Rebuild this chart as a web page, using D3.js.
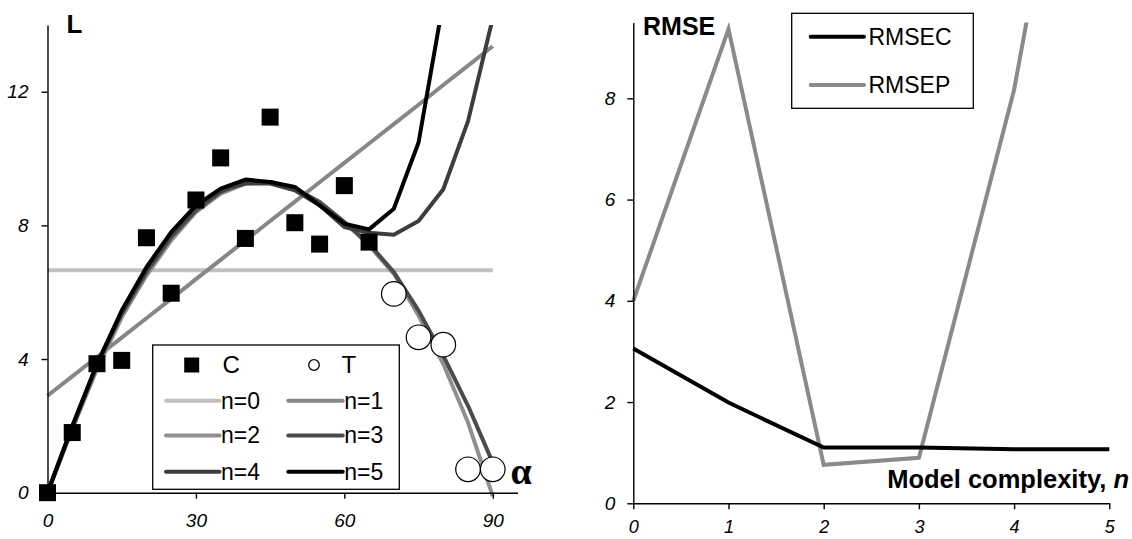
<!DOCTYPE html>
<html>
<head>
<meta charset="utf-8">
<script src="https://cdn.jsdelivr.net/npm/d3@7"></script>
<style>
  html, body { margin: 0; padding: 0; background: #fff; }
  svg { display: block; font-family: "Liberation Sans", Arial, sans-serif; }
</style>
</head>
<body>
<script>
// ---- Left panel: calibration / test points and polynomial fits ----
const angles = [0, 5, 10, 15, 20, 25, 30, 35, 40, 45, 50, 55, 60, 65, 70, 75, 80, 85, 90];
const calAngles = [0, 5, 10, 15, 20, 25, 30, 35, 40, 45, 50, 55, 60, 65];
const calL = [0, 1.80, 3.86, 3.96, 7.63, 5.97, 8.76, 10.02, 7.61, 11.24, 8.08, 7.44, 9.19, 7.50];
const testAngles = [70, 75, 80, 85, 90];
const testL = [5.95, 4.65, 4.43, 0.70, 0.70];

const fitN0 = [6.66, 6.66, 6.66, 6.66, 6.66, 6.66, 6.66, 6.66, 6.66, 6.66, 6.66, 6.66, 6.66, 6.66, 6.66, 6.66, 6.66, 6.66, 6.66];
const fitN1 = [2.90, 3.48, 4.06, 4.64, 5.22, 5.80, 6.39, 6.97, 7.55, 8.13, 8.71, 9.29, 9.87, 10.45, 11.03, 11.61, 12.20, 12.78, 13.36];
const fitN2 = [0, 1.90, 3.70, 5.25, 6.50, 7.55, 8.40, 8.95, 9.25, 9.30, 9.10, 8.70, 8.10, 7.40, 6.55, 5.30, 3.85, 2.10, -0.10];
const fitN3 = [0, 1.95, 3.80, 5.35, 6.60, 7.65, 8.45, 9.00, 9.30, 9.30, 9.10, 8.70, 8.10, 7.45, 6.60, 5.45, 4.10, 2.60, 0.90];
const fitN4 = [0, 1.95, 3.85, 5.40, 6.70, 7.75, 8.55, 9.05, 9.25, 9.25, 9.05, 8.60, 7.95, 7.78, 7.72, 8.13, 9.08, 11.12, 14.20];
const fitN5 = [0, 2.00, 3.85, 5.45, 6.75, 7.80, 8.60, 9.10, 9.37, 9.30, 9.15, 8.60, 8.05, 7.88, 8.50, 10.48, 14.70, 22.0, 33.0];

const fitNames = ["n=0", "n=1", "n=2", "n=3", "n=4", "n=5"];
const fitColors = ["#c0c0c0", "#878787", "#8f8f8f", "#4b4b4b", "#3d3d3d", "#000000"];
const angleTicks = [0, 30, 60, 90];
const lTicks = [0, 4, 8, 12];

// ---- Right panel: error versus model complexity ----
const complexity = [0, 1, 2, 3, 4, 5];
const rmsec = [3.06, 1.99, 1.10, 1.10, 1.07, 1.07];
const rmsep = [4.00, 9.37, 0.76, 0.90, 8.17, 18.4];
const errNames = ["RMSEC", "RMSEP"];
const errColors = ["#000000", "#8a8a8a"];
const complexityTicks = [0, 1, 2, 3, 4, 5];
const rmseTicks = [0, 2, 4, 6, 8];

const W = 1132, H = 539;
const svg = d3.select("body").append("svg").attr("width", W).attr("height", H);

function styleAxis(g, size) {
  g.attr("font-family", "'Liberation Sans', Arial, sans-serif").attr("font-size", size);
  g.select(".domain").attr("stroke", "#000").attr("stroke-width", 1.4);
  g.selectAll(".tick line").attr("stroke", "#000").attr("stroke-width", 1.4);
  g.selectAll(".tick text").attr("font-style", "italic").attr("fill", "#000");
}

// ===== Left panel =====
const xL = d3.scaleLinear().domain([0, 95]).range([47.5, 517.5]);
const yL = d3.scaleLinear().domain([0, 14]).range([492.7, 24.9]);

svg.append("clipPath").attr("id", "clipL")
  .append("rect").attr("x", 0).attr("y", yL(14)).attr("width", 545).attr("height", H);

const fits = [fitN0, fitN1, fitN2, fitN3, fitN4, fitN5].map((vals, i) => ({
  name: fitNames[i], color: fitColors[i], pts: angles.map((a, j) => [a, vals[j]])
}));

const lineL = d3.line().x(d => xL(d[0])).y(d => yL(d[1]));

svg.append("g").attr("clip-path", "url(#clipL)")
  .selectAll("path").data(fits).join("path")
  .attr("d", d => lineL(d.pts))
  .attr("fill", "none")
  .attr("stroke", d => d.color)
  .attr("stroke-width", 4)
  .attr("stroke-linejoin", "round");

const axXL = svg.append("g").attr("transform", `translate(0,${yL(0)})`)
  .call(d3.axisBottom(xL).tickValues(angleTicks).tickFormat(d3.format("d"))
    .tickSize(6).tickSizeOuter(0).tickPadding(15));
styleAxis(axXL, 19);
const axYL = svg.append("g").attr("transform", `translate(${xL(0)},0)`)
  .call(d3.axisLeft(yL).tickValues(lTicks).tickFormat(d3.format("d"))
    .tickSize(6).tickSizeOuter(0).tickPadding(13));
styleAxis(axYL, 19);

// calibration squares
const sq = 17;
svg.append("g").selectAll("rect").data(calAngles.map((a, i) => [a, calL[i]])).join("rect")
  .attr("x", d => xL(d[0]) - sq / 2).attr("y", d => yL(d[1]) - sq / 2)
  .attr("width", sq).attr("height", sq).attr("fill", "#000");

// test circles
svg.append("g").selectAll("circle").data(testAngles.map((a, i) => [a, testL[i]])).join("circle")
  .attr("cx", d => xL(d[0])).attr("cy", d => yL(d[1])).attr("r", 12.3)
  .attr("fill", "#fff").attr("stroke", "#000").attr("stroke-width", 1.2);

svg.append("text").attr("x", 66.5).attr("y", 33.3)
  .attr("font-size", 26).attr("font-weight", "bold").text("L");
svg.append("text").attr("x", 510.5).attr("y", 483.5)
  .attr("font-family", "'Liberation Serif', 'DejaVu Serif', serif")
  .attr("font-size", 38).attr("font-weight", "bold").text("α");

// left legend
const legL = svg.append("g");
legL.append("rect").attr("x", 152.7).attr("y", 345).attr("width", 246.6).attr("height", 144.3)
  .attr("fill", "#fff").attr("stroke", "#000").attr("stroke-width", 1.3);
legL.append("rect").attr("x", 191.7 - 7.5).attr("y", 365 - 7.5).attr("width", 15).attr("height", 15).attr("fill", "#000");
legL.append("text").attr("x", 222.5).attr("y", 373.3).attr("font-size", 24).text("C");
legL.append("circle").attr("cx", 314).attr("cy", 365).attr("r", 5.3)
  .attr("fill", "#fff").attr("stroke", "#000").attr("stroke-width", 1.3);
legL.append("text").attr("x", 341.5).attr("y", 373.3).attr("font-size", 24).text("T");
const rowY = [400.7, 435.5, 471.7];
const colX = [[166, 219.5], [288.3, 342.7]];
fits.forEach((f, i) => {
  const r = Math.floor(i / 2), c = i % 2;
  legL.append("line").attr("x1", colX[c][0]).attr("x2", colX[c][1])
    .attr("y1", rowY[r]).attr("y2", rowY[r])
    .attr("stroke", f.color).attr("stroke-width", 4).attr("stroke-linecap", "round");
  legL.append("text").attr("x", colX[c][1] + 1.5).attr("y", rowY[r] + 7.8)
    .attr("font-size", 23).text(f.name);
});

// ===== Right panel =====
const xR = d3.scaleLinear().domain([0, 5]).range([633.3, 1109.3]);
const yR = d3.scaleLinear().domain([0, 9.5]).range([503.3, 22.4]);

svg.append("clipPath").attr("id", "clipR")
  .append("rect").attr("x", 560).attr("y", yR(9.5)).attr("width", 572).attr("height", H);

const errs = [rmsec, rmsep].map((vals, i) => ({
  name: errNames[i], color: errColors[i], pts: complexity.map((n, j) => [n, vals[j]])
}));
const lineR = d3.line().x(d => xR(d[0])).y(d => yR(d[1]));

svg.append("g").attr("clip-path", "url(#clipR)")
  .selectAll("path").data(errs.slice().reverse()).join("path")
  .attr("d", d => lineR(d.pts))
  .attr("fill", "none")
  .attr("stroke", d => d.color)
  .attr("stroke-width", 4)
  .attr("stroke-linejoin", "miter");

const axXR = svg.append("g").attr("transform", `translate(0,${yR(0)})`)
  .call(d3.axisBottom(xR).tickValues(complexityTicks).tickFormat(d3.format("d"))
    .tickSize(6).tickSizeOuter(0).tickPadding(11));
styleAxis(axXR, 18);
const axYR = svg.append("g").attr("transform", `translate(${xR(0)},0)`)
  .call(d3.axisLeft(yR).tickValues(rmseTicks).tickFormat(d3.format("d"))
    .tickSize(6).tickSizeOuter(0).tickPadding(12));
styleAxis(axYR, 19);

svg.append("text").attr("x", 643).attr("y", 35)
  .attr("font-size", 25).attr("font-weight", "bold").text("RMSE");
const xt = svg.append("text").attr("x", 1129).attr("y", 488.3).attr("text-anchor", "end")
  .attr("font-size", 25.5).attr("font-weight", "bold");
xt.append("tspan").text("Model complexity, ");
xt.append("tspan").attr("font-style", "italic").text("n");

// right legend
const legR = svg.append("g");
legR.append("rect").attr("x", 791.7).attr("y", 13.3).attr("width", 181.6).attr("height", 95)
  .attr("fill", "#fff").attr("stroke", "#000").attr("stroke-width", 1.3);
const legRowY = [36.7, 85];
errs.forEach((e, i) => {
  legR.append("line").attr("x1", 810.7).attr("x2", 864).attr("y1", legRowY[i]).attr("y2", legRowY[i])
    .attr("stroke", e.color).attr("stroke-width", 4).attr("stroke-linecap", "round");
  legR.append("text").attr("x", 868.5).attr("y", legRowY[i] + 8.3).attr("font-size", 23).text(e.name);
});
</script>
</body>
</html>
